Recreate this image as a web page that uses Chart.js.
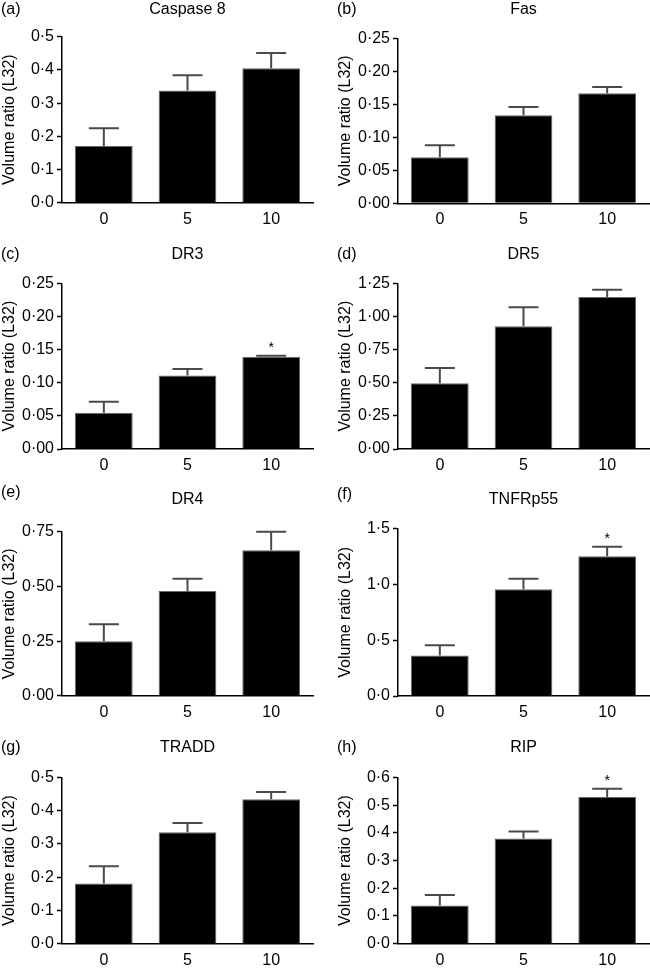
<!DOCTYPE html>
<html>
<head>
<meta charset="utf-8">
<script src="https://cdn.jsdelivr.net/npm/chart.js@4.4.0/dist/chart.umd.min.js"></script>
<style>
  body { margin: 0; background: #fff; }
  #page { position: relative; width: 650px; height: 968px; overflow: hidden; }
  #page canvas { position: absolute; }
</style>
</head>
<body>
<div id="page"></div>
<script>
// dose groups on the x axis
const doses = ['0', '5', '10'];
const letters = ['(a)', '(b)', '(c)', '(d)', '(e)', '(f)', '(g)', '(h)'];
const genes = ['Caspase 8', 'Fas', 'DR3', 'DR5', 'DR4', 'TNFRp55', 'TRADD', 'RIP'];

// mean volume ratio and upper error (SEM) per panel
const means = [
  [0.171, 0.338, 0.405],
  [0.0697, 0.1333, 0.1667],
  [0.0548, 0.111, 0.1393],
  [0.496, 0.926, 1.147],
  [0.249, 0.480, 0.666],
  [0.362, 0.956, 1.252],
  [0.181, 0.335, 0.434],
  [0.138, 0.380, 0.529]
];
const sems = [
  [0.053, 0.046, 0.046],
  [0.0182, 0.0127, 0.0096],
  [0.0166, 0.0097, 0.0015],
  [0.115, 0.143, 0.055],
  [0.078, 0.056, 0.085],
  [0.092, 0.096, 0.087],
  [0.052, 0.028, 0.022],
  [0.038, 0.025, 0.030]
];
// which bars carry a significance star
const starred = [[], [], [2], [], [], [2], [], [2]];

const yMax = [0.5, 0.25, 0.25, 1.25, 0.75, 1.5, 0.5, 0.6];
const yStep = [0.1, 0.05, 0.05, 0.25, 0.25, 0.5, 0.1, 0.1];
const yTickLabels = [
  ['0·0', '0·1', '0·2', '0·3', '0·4', '0·5'],
  ['0·00', '0·05', '0·10', '0·15', '0·20', '0·25'],
  ['0·00', '0·05', '0·10', '0·15', '0·20', '0·25'],
  ['0·00', '0·25', '0·50', '0·75', '1·00', '1·25'],
  ['0·00', '0·25', '0·50', '0·75'],
  ['0·0', '0·5', '1·0', '1·5'],
  ['0·0', '0·1', '0·2', '0·3', '0·4', '0·5'],
  ['0·0', '0·1', '0·2', '0·3', '0·4', '0·5', '0·6']
];

// page positions (px): letter y, title y, plot top, plot bottom
const layout = [
  [9.5, 9.5, 36.7, 202.7],
  [9.5, 9.5, 38.3, 203.3],
  [255, 255, 283.3, 449],
  [255, 255, 283.3, 449],
  [493.3, 500, 532.3, 696],
  [495, 500, 528.7, 696],
  [748.3, 748.3, 777.7, 944],
  [748.3, 748.3, 777.7, 944]
];
const colLeft = [0, 336];
const panelWidth = 314;
const FONT = '"Liberation Sans", Arial, Helvetica, sans-serif';

Chart.defaults.font.family = FONT;
Chart.defaults.color = '#000';

function makePanel(p) {
  const [letterY, titleY, plotTop, plotBottom] = layout[p];
  const top = Math.max(0, letterY - 10);
  const height = Math.round(plotBottom + 38 - top);

  const canvas = document.createElement('canvas');
  canvas.width = panelWidth;
  canvas.height = height;
  canvas.style.left = colLeft[p % 2] + 'px';
  canvas.style.top = top + 'px';
  canvas.style.width = panelWidth + 'px';
  canvas.style.height = height + 'px';
  document.getElementById('page').appendChild(canvas);

  const errorBars = {
    id: 'errorBars',
    afterDatasetsDraw(chart) {
      const ctx = chart.ctx;
      const y = chart.scales.y;
      const bars = chart.getDatasetMeta(0).data;
      ctx.save();
      ctx.strokeStyle = '#4a4a4a';
      ctx.lineWidth = 2;
      bars.forEach((bar, i) => {
        const capY = y.getPixelForValue(means[p][i] + sems[p][i]);
        ctx.beginPath();
        ctx.moveTo(bar.x, bar.y);
        ctx.lineTo(bar.x, capY);
        ctx.moveTo(bar.x - 15, capY);
        ctx.lineTo(bar.x + 15, capY);
        ctx.stroke();
        if (starred[p].includes(i)) {
          ctx.fillStyle = '#000';
          ctx.font = '14px ' + FONT;
          ctx.textAlign = 'center';
          ctx.textBaseline = 'alphabetic';
          ctx.fillText('*', bar.x, capY - 4);
        }
      });
      ctx.restore();
    }
  };

  const headings = {
    id: 'headings',
    afterDraw(chart) {
      const ctx = chart.ctx;
      const area = chart.chartArea;
      ctx.save();
      ctx.fillStyle = '#000';
      ctx.font = '16px ' + FONT;
      ctx.textBaseline = 'middle';
      ctx.textAlign = 'left';
      ctx.fillText(letters[p], 1, letterY - top);
      ctx.textAlign = 'center';
      ctx.fillText(genes[p], (area.left + area.right) / 2, titleY - top);
      ctx.restore();
    }
  };

  new Chart(canvas, {
    type: 'bar',
    data: {
      labels: doses,
      datasets: [{
        data: means[p],
        backgroundColor: '#000',
        borderColor: '#666',
        borderWidth: 1,
        categoryPercentage: 1,
        barPercentage: 0.69
      }]
    },
    options: {
      responsive: false,
      animation: false,
      devicePixelRatio: 1,
      layout: { padding: { top: plotTop - top, right: 1, left: 0, bottom: 0 } },
      plugins: { legend: { display: false }, tooltip: { enabled: false } },
      scales: {
        x: {
          offset: true,
          grid: { display: false, drawTicks: false },
          border: { display: true, color: '#000', width: 1.5 },
          ticks: { padding: 7, font: { size: 16 }, color: '#000' },
          afterFit(scale) { scale.height = height - (plotBottom - top); }
        },
        y: {
          min: 0,
          max: yMax[p],
          grid: { display: true, drawOnChartArea: false, drawTicks: true, tickLength: 5, tickColor: '#000', tickWidth: 1.5 },
          border: { display: true, color: '#000', width: 1.5 },
          ticks: {
            stepSize: yStep[p],
            padding: 3,
            font: { size: 16 },
            color: '#000',
            callback: (v) => yTickLabels[p][Math.round(v / yStep[p])]
          },
          title: { display: true, text: 'Volume ratio (L32)', font: { size: 16 }, color: '#000', padding: 0 },
          afterFit(scale) { scale.width = 62; }
        }
      }
    },
    plugins: [errorBars, headings]
  });
}

for (let p = 0; p < genes.length; p++) makePanel(p);
</script>
</body>
</html>
